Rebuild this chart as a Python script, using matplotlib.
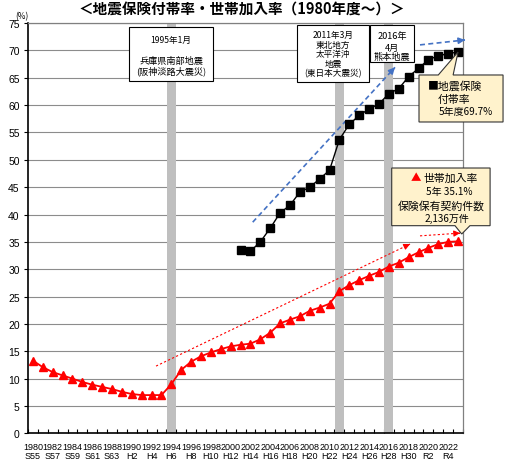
import matplotlib
matplotlib.use("Agg")
import matplotlib.pyplot as plt
from matplotlib.patches import Rectangle, Polygon
import numpy as np

plt.rcParams['font.family'] = ['Noto Sans CJK JP', 'DejaVu Sans']

# ---------------- data ----------------
years_household = list(range(1980, 2024))
household_rate = [13.3, 12.1, 11.2, 10.6, 10.0, 9.4, 8.9, 8.5, 8.1, 7.6,
                  7.2, 7.0, 7.0, 7.0, 9.0, 11.6, 13.1, 14.1, 14.8, 15.4,
                  15.9, 16.2, 16.4, 17.2, 18.4, 20.1, 20.8, 21.4, 22.4, 23.0,
                  23.7, 26.0, 27.1, 28.0, 28.8, 29.5, 30.5, 31.2, 32.2, 33.1,
                  33.9, 34.6, 35.0, 35.1]

years_attach = list(range(2001, 2024))
attach_rate = [33.5, 33.3, 35.0, 37.5, 40.3, 41.7, 44.1, 45.0, 46.5, 48.1,
               53.7, 56.5, 58.1, 59.3, 60.2, 62.1, 63.0, 65.2, 66.7, 68.3,
               69.0, 69.4, 69.7]

tick_years = list(range(1980, 2023, 2))
era_labels = ['S55', 'S57', 'S59', 'S61', 'S63', 'H2', 'H4', 'H6', 'H8', 'H10',
              'H12', 'H14', 'H16', 'H18', 'H20', 'H22', 'H24', 'H26', 'H28',
              'H30', 'R2', 'R4']

quake_years = [1994, 2011, 2016]

# ---------------- figure ----------------
W, H = 505, 464
fig = plt.figure(figsize=(W / 100, H / 100), dpi=100)
ax = fig.add_axes([28 / W, 29.6 / H, 435 / W, 410.4 / H])

ax.set_xlim(1979.5, 2023.5)
ax.set_ylim(0, 75)

# grid
ax.set_axisbelow(True)
ax.yaxis.grid(True, color='#8C8C8C', lw=0.8, zorder=0.5)
ax.set_yticks(np.arange(0, 76, 5))
ax.tick_params(axis='y', direction='out', length=3, labelsize=7.5, pad=3)
for lab in ax.get_yticklabels():
    lab.set_family('Liberation Sans')

ax.set_xticks(tick_years)
ax.set_xticklabels([f"{y}\n{e}" for y, e in zip(tick_years, era_labels)],
                   fontsize=6.5, family='Liberation Sans', linespacing=1.0)
ax.set_xticks(np.arange(1979.5, 2024, 1.0), minor=True)
ax.tick_params(axis='x', which='major', length=0, pad=6)
ax.tick_params(axis='x', which='minor', direction='in', length=3, width=0.8)

for s in ['left', 'bottom']:
    ax.spines[s].set_color('black')
    ax.spines[s].set_linewidth(1.2)
for s in ['top', 'right']:
    ax.spines[s].set_color('#808080')
    ax.spines[s].set_linewidth(0.9)

# quake bands
for qy in quake_years:
    ax.axvspan(qy - 0.45, qy + 0.45, color='#BFBFBF', zorder=1, lw=0)

# series
ax.plot(years_household, household_rate, color='#FF0000', lw=1.3, marker='^',
        markersize=6.3, zorder=4)
ax.plot(years_attach, attach_rate, color='black', lw=1.0, marker='s',
        markersize=5.8, zorder=4)


# trend arrows
def dashed_arrow(p0, p1, color, lw, dash, head):
    ax.plot([p0[0], p1[0]], [p0[1], p1[1]], color=color, lw=lw,
            ls=(0, dash), zorder=3, clip_on=False)
    dx, dy = p1[0] - p0[0], p1[1] - p0[1]
    ax.annotate('', xy=p1, xytext=(p1[0] - dx * 0.02, p1[1] - dy * 0.02),
                arrowprops=dict(arrowstyle='-|>', color=color, lw=lw,
                                mutation_scale=head, shrinkA=0, shrinkB=0),
                zorder=3, annotation_clip=False)


dashed_arrow((2002.23, 38.6), (2016.62, 66.9), '#4472C4', 1.2, (3, 2), 9)
dashed_arrow((2019.15, 71.0), (2023.7, 71.9), '#4472C4', 1.2, (3, 2), 9)
dashed_arrow((1992.45, 12.3), (2018.14, 34.6), '#FF0000', 0.8, (2, 2), 9)
dashed_arrow((2019.15, 36.1), (2023.2, 36.6), '#FF0000', 0.8, (2, 2), 9)


# event boxes
def box(x0, x1, y0, y1, fc='white', ec='black'):
    ax.add_patch(Rectangle((x0, y0), x1 - x0, y1 - y0, fc=fc, ec=ec, lw=0.8,
                           zorder=5, clip_on=False))


box(1989.72, 1998.21, 64.4, 74.32)
ax.text(1993.96, 72.08, '1995年1月', ha='center', va='center', fontsize=6.2, zorder=6)
ax.text(1993.96, 68.2, '兵庫県南部地震', ha='center', va='center', fontsize=6.6, zorder=6)
ax.text(1993.96, 66.35, '(阪神淡路大震災)', ha='center', va='center', fontsize=6.6, zorder=6)

box(2006.71, 2013.99, 64.27, 74.63)
for t, yy in zip(['2011年3月', '東北地方', '太平洋沖', '地震', '(東日本大震災)'],
                 [72.99, 71.16, 69.46, 67.64, 65.86]):
    ax.text(2010.35, yy, t, ha='center', va='center', fontsize=6.2, zorder=6)

box(2014.09, 2018.54, 67.87, 74.63)
for t, yy in zip(['2016年', '4月', '熊本地震'], [72.68, 70.56, 68.84]):
    ax.text(2016.32, yy, t, ha='center', va='center', fontsize=6.6, zorder=6)

# callout: attach rate
fc_call = '#FFF2CC'
ec_call = '#333333'
x0, x1, yt, yb = 2019.05, 2027.55, 65.5, 56.91
ax.add_patch(Polygon([(x0, yt), (2021.0, yt), (2023.0, 69.7), (2022.5, yt),
                      (x1, yt), (x1, yb), (x0, yb)], closed=True, fc=fc_call,
                     ec=ec_call, lw=0.8, zorder=5, clip_on=False))
ax.text(2019.96, 63.67, '■地震保険', ha='left', va='center', fontsize=7.8, zorder=6)
ax.text(2020.97, 61.11, '付帯率', ha='left', va='center', fontsize=7.8, zorder=6)
ax.text(2021.07, 58.97, '5年度69.7%', ha='left', va='center', fontsize=7.2, zorder=6)

# callout: household rate
x0, x1, yt, yb = 2016.29, 2026.24, 48.5, 37.96
ax.add_patch(Polygon([(x0, yt), (x1, yt), (x1, yb), (2024.2, yb), (2023.37, 36.44),
                      (2022.69, yb), (x0, yb)], closed=True, fc=fc_call,
                     ec=ec_call, lw=0.8, zorder=5, clip_on=False))
ax.text(2018.7, 46.8, '▲', ha='center', va='center', fontsize=7.5, color='#FF0000', zorder=6)
ax.text(2019.55, 46.8, '世帯加入率', ha='left', va='center', fontsize=7.8, zorder=6)
ax.text(2022.08, 44.24, '5年 35.1%', ha='center', va='center', fontsize=7.2, zorder=6)
ax.text(2021.27, 41.61, '保険保有契約件数', ha='center', va='center', fontsize=7.8, zorder=6)
ax.text(2021.88, 39.31, '2,136万件', ha='center', va='center', fontsize=7.2, zorder=6)

# title and unit
fig.text(241.5 / W, 1 - 10 / H, '＜地震保険付帯率・世帯加入率（1980年度～）＞',
         ha='center', va='center', fontsize=10.5, fontweight='bold')
fig.text(22 / W, 1 - 17 / H, '(%)', ha='center', va='center', fontsize=6)

fig.savefig('out.png', dpi=100)
